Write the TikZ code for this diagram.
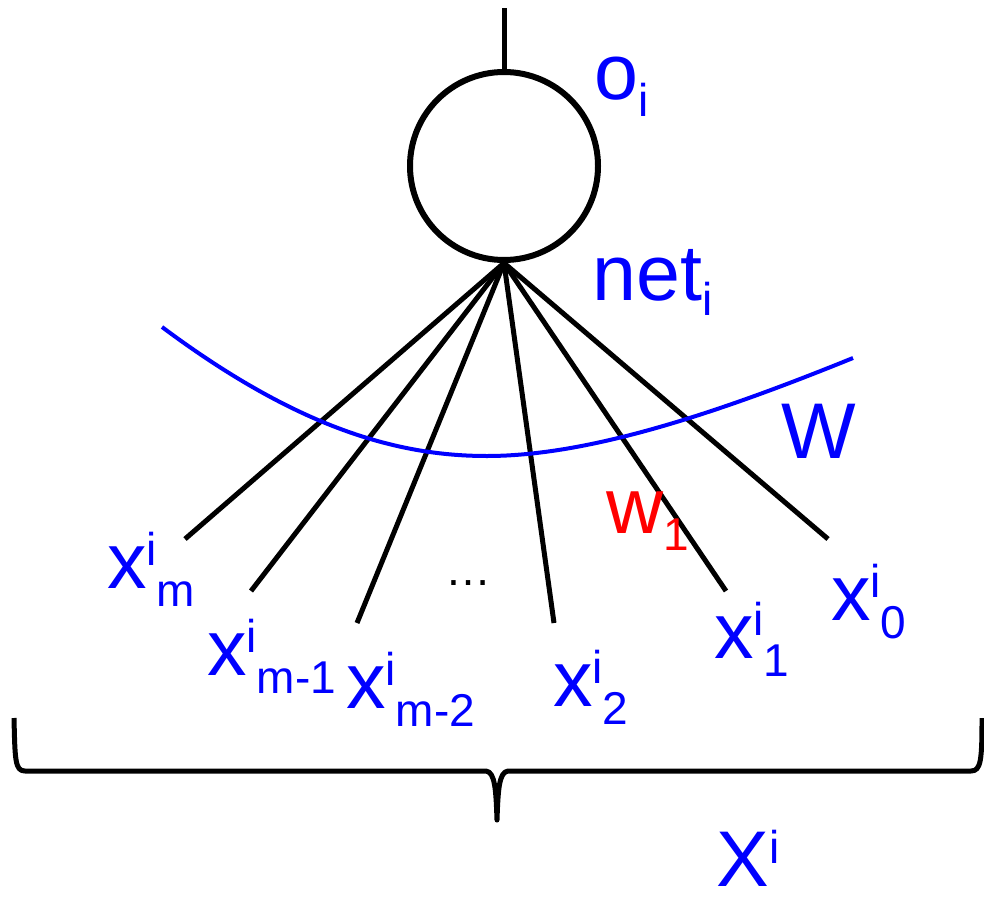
\documentclass[tikz,border=0pt]{standalone}
\usepackage{fontspec}
\setmainfont{Liberation Sans}
\usetikzlibrary{positioning}
\newcommand{\scr}{\fontsize{23}{26}\selectfont}
\newcommand{\ixlbl}[3]{#1\rlap{\raisebox{11.25pt}{\scr #2}}\hspace{5pt}\raisebox{-9.25pt}{\scr #3}}
\newcommand{\ixsub}[3][8.5pt]{#2\raisebox{-#1}{\scr #3}}
\begin{document}
\begin{tikzpicture}[x=0.5pt, y=-0.5pt,
  wire/.style={line width=2.5pt, black},
  neuronbox/.style={draw, circle, line width=3pt, minimum size=94pt, inner sep=0pt},
  lab/.style={anchor=base west, inner sep=0pt, text=blue,
              font=\fontsize{39.5}{44}\selectfont},
  weightlab/.style={lab, text=red},
  dotslab/.style={anchor=base, inner sep=0pt, font=\scr},
  surface/.style={draw=blue, line width=2pt},
  bracepath/.style={line width=2.5pt, line join=round}]
\useasboundingbox (0,0) rectangle (984,904);

\node[neuronbox] (neuron) at (504,166) {};
\coordinate (out) at (504,8);
\draw[wire] (neuron.north) -- (out);

\coordinate (xm)  at (185,539);
\coordinate (xm1) at (251,591);
\coordinate (xm2) at (357,623);
\coordinate (x2)  at (554,623);
\coordinate (x1)  at (726,591);
\coordinate (x0)  at (828,539);
\foreach \e in {xm,xm1,xm2,x2,x1,x0}
  \draw[wire] (neuron.south) -- (\e);

\draw[surface] (162,327) .. controls (300,430) and (400,456) .. (487,456)
  .. controls (590,456) and (720,412) .. (853,358);

\node[lab] (oi) at (594,100) {\ixsub{o}{i}};
\node[lab] (neti) at (592,300) {\ixsub[7.5pt]{net}{i}};
\node[lab] (W) at (781,458) {W};
\node[weightlab] (w1) at (606,533) {\ixsub{w}{1}};

\node[lab] (labxm)  at (107,588) {\ixlbl{x}{i}{m}};
\node[lab] (labxm1) at (207,675) {\ixlbl{x}{i}{m-1}};
\node[lab] (labxm2) at (346,708) {\ixlbl{x}{i}{m-2}};
\node[dotslab] (dots) at (468,585) {…};
\node[lab] (labx2)  at (553,706) {\ixlbl{x}{i}{2}};
\node[lab] (labx1)  at (714,658) {\ixlbl{x}{i}{1}};
\node[lab] (labx0)  at (831,620) {\ixlbl{x}{i}{0}};

\draw[bracepath] (14,718) .. controls (15,760) and (15,771) .. (25,771)
  -- (486,771) .. controls (495,772) and (496,790) .. (497,820)
  .. controls (498,790) and (499,772) .. (508,771)
  -- (971,771) .. controls (981,771) and (982,760) .. (982,718);

\node[lab] (Xi) at (716,886) {X\raisebox{11.5pt}{\scr i}};
\end{tikzpicture}
\end{document}
